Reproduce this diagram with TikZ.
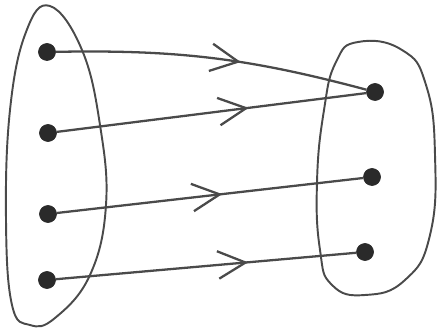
\documentclass[tikz,border=0pt]{standalone}
\usepackage{tikz}
\usetikzlibrary{arrows.meta,decorations.markings}
\definecolor{pencil}{HTML}{4A4A4A}
\definecolor{lead}{HTML}{2A2A2A}
\tikzset{
  elem/.style={circle, fill=lead, draw=lead, minimum size=3.4mm, inner sep=0pt},
  setline/.style={draw=pencil, line width=1.1pt},
  mapflow/.style={draw=pencil, line width=1.3pt, postaction={decorate},
    decoration={markings, mark=at position #1 with
      {\arrow[pencil, line width=1.3pt]{Straight Barb[length=5.5mm,width=5.5mm]}}}},
  mapflow/.default=0.58
}
\begin{document}
\begin{tikzpicture}[x=0.02cm,y=-0.02cm]
  \useasboundingbox (0,0) rectangle (438,330);

  % Domain and codomain outlines.
  \draw[setline] plot[smooth cycle, tension=0.7] coordinates
    {(50,6) (82,50) (100,125) (106,205) (90,275) (55,318) (30,325)
     (12,305) (6,220) (10,110) (26,32)};
  \draw[setline] plot[smooth cycle, tension=0.8] coordinates
    {(358,42) (402,50) (426,85) (435,155) (430,235) (405,280) (365,295)
     (332,285) (320,250) (317,182) (324,110) (336,62)};

  % Elements.
  \node[elem] (l1) at (47,52) {};
  \node[elem] (l2) at (48,133) {};
  \node[elem] (l3) at (48,214) {};
  \node[elem] (l4) at (47,280) {};
  \node[elem] (r1) at (375,92) {};
  \node[elem] (r2) at (372,177) {};
  \node[elem] (r3) at (365,252) {};

  % Mapping.
  \draw[mapflow=0.59] (l1) to[bend left=8] (r1);
  \draw[mapflow=0.62] (l2) -- (r1);
  \draw[mapflow=0.54] (l3) -- (r2);
  \draw[mapflow=0.64] (l4) -- (r3);
\end{tikzpicture}
\end{document}
